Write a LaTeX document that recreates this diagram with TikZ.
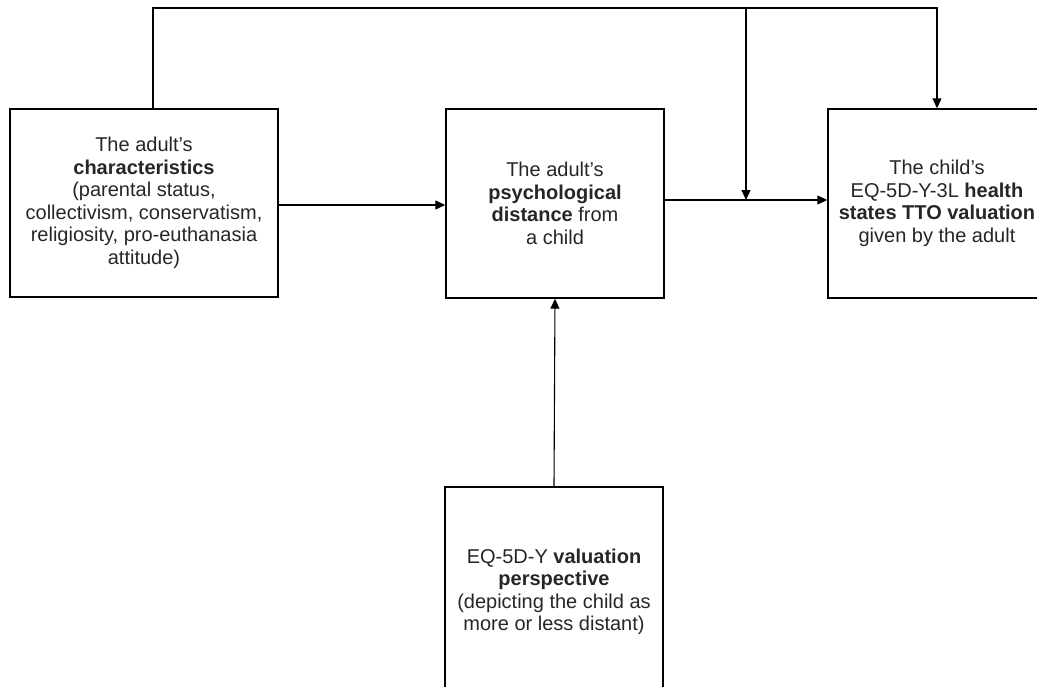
\documentclass[tikz,border=0pt]{standalone}
\usepackage{fontspec}
\setmainfont{Liberation Sans}
\usetikzlibrary{arrows.meta}
\begin{document}
\begin{tikzpicture}[x=1pt,y=-1pt,
  box/.style={draw=black, line width=1.4pt, align=center, inner sep=0pt,
    font=\fontsize{20}{22.5}\selectfont, text=black!85},
  conn/.style={line width=1.1pt, -{Triangle[length=10pt,width=9pt]}},
  plain/.style={line width=1.1pt}]
\useasboundingbox (0,0) rectangle (1037,686);
\clip (0,0) rectangle (1037,686);
\node[box, minimum width=268pt, minimum height=188pt] (L) at (144,203)
  {The adult's\\\textbf{characteristics}\\(parental status,\\collectivism, conservatism,\\religiosity, pro-euthanasia\\attitude)};
\node[box, minimum width=218pt, minimum height=189pt] (M) at (555,203.5)
  {The adult's\\\textbf{psychological}\\\textbf{distance} from\\a child};
\node[box, minimum width=218pt, minimum height=189pt] (R) at (937,203.5)
  {The child's\\EQ-5D-Y-3L \textbf{health}\\\textbf{states TTO valuation}\\given by the adult};
\node[box, minimum width=218pt, minimum height=210pt] (B) at (554,592)
  {EQ-5D-Y \textbf{valuation}\\\textbf{perspective}\\(depicting the child as\\more or less distant)};
\coordinate (t1) at (153,8);
\coordinate (t2) at (746,8);
\coordinate (t3) at (937,8);
\coordinate (j) at (746,200);
\coordinate (ya) at (0,205);
\coordinate (yb) at (0,200);
\draw[conn] (L.north -| t1) -- (t1) -- (t3) -- (R.north -| t3);
\draw[conn] (t2) -- (j);
\draw[conn] (L.east |- ya) -- (M.west |- ya);
\draw[conn] (M.east |- yb) -- (R.west |- yb);
\draw[conn] (B.north) -- (M.south);
\end{tikzpicture}
\end{document}
